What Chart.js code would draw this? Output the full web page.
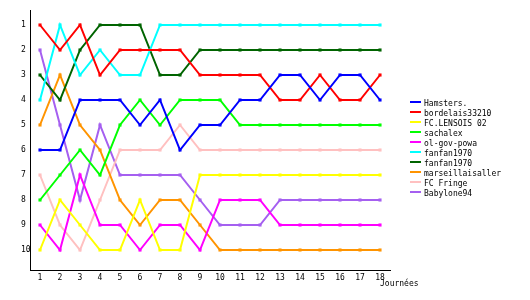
<!DOCTYPE html>
<html lang="fr">
<head>
  <meta charset="UTF-8" />
  <title>Classement par journée</title>
  <script src="https://cdn.jsdelivr.net/npm/chart.js"></script>
  <style>
    * { margin: 0; padding: 0; box-sizing: border-box; }
    body { background: #fff; width: 530px; height: 300px; overflow: hidden; }
    canvas { display: block; }
  </style>
</head>
<body>
  <canvas id="rankChart" width="530" height="300"></canvas>

  <script>
    // journées (x axis) and rank ticks (y axis)
    const journees = ['1','2','3','4','5','6','7','8','9','10','11','12','13','14','15','16','17','18'];
    const rankTicks = [1, 2, 3, 4, 5, 6, 7, 8, 9, 10];

    // classement of each team per journée
    const hamsters    = [6, 6, 4, 4, 4, 5, 4, 6, 5, 5, 4, 4, 3, 3, 4, 3, 3, 4];
    const bordelais   = [1, 2, 1, 3, 2, 2, 2, 2, 3, 3, 3, 3, 4, 4, 3, 4, 4, 3];
    const lensois     = [10, 8, 9, 10, 10, 8, 10, 10, 7, 7, 7, 7, 7, 7, 7, 7, 7, 7];
    const sachalex    = [8, 7, 6, 7, 5, 4, 5, 4, 4, 4, 5, 5, 5, 5, 5, 5, 5, 5];
    const olGovPowa   = [9, 10, 7, 9, 9, 10, 9, 9, 10, 8, 8, 8, 9, 9, 9, 9, 9, 9];
    const fanfanA     = [4, 1, 3, 2, 3, 3, 1, 1, 1, 1, 1, 1, 1, 1, 1, 1, 1, 1];
    const fanfanB     = [3, 4, 2, 1, 1, 1, 3, 3, 2, 2, 2, 2, 2, 2, 2, 2, 2, 2];
    const marseillais = [5, 3, 5, 6, 8, 9, 8, 8, 9, 10, 10, 10, 10, 10, 10, 10, 10, 10];
    const fringe      = [7, 9, 10, 8, 6, 6, 6, 5, 6, 6, 6, 6, 6, 6, 6, 6, 6, 6];
    const babylone    = [2, 5, 8, 5, 7, 7, 7, 7, 8, 9, 9, 9, 8, 8, 8, 8, 8, 8];

    const teamNames = ['Hamsters.', 'bordelais33210', 'FC.LENSOIS 02', 'sachalex', 'ol-gov-powa',
                       'fanfan1970', 'fanfan1970', 'marseillaisaller', 'FC Fringe', 'Babylone94'];
    const teamRanks = [hamsters, bordelais, lensois, sachalex, olGovPowa, fanfanA, fanfanB, marseillais, fringe, babylone];
    const teamColors = ['#0000ff', '#ff0000', '#ffff00', '#00ff00', '#ff00ff',
                        '#00ffff', '#006400', '#ff9400', '#ffc0c0', '#a55ff0'];

    const FONT = '8px "DejaVu Sans Mono", monospace';

    // legend on the right + axis caption, drawn by hand
    const sideLegend = {
      id: 'sideLegend',
      afterDraw(chart) {
        const c = chart.ctx;
        c.save();
        c.font = FONT;
        c.textBaseline = 'middle';
        c.fillStyle = '#000';
        chart.data.datasets.forEach((ds, i) => {
          const y = 103 + i * 10;
          c.fillStyle = ds.borderColor;
          c.fillRect(410, y - 2, 11, 2);
          c.fillStyle = '#000';
          c.fillText(ds.label, 424, y + 1);
        });
        c.fillText('Journées', 380, 284);
        c.restore();
      }
    };

    new Chart(document.getElementById('rankChart'), {
      type: 'line',
      data: {
        labels: journees,
        datasets: teamNames.map((name, i) => ({
          label: name,
          data: teamRanks[i],
          borderColor: teamColors[i],
          backgroundColor: teamColors[i],
          borderWidth: 2,
          tension: 0,
          fill: false,
          pointStyle: 'rect',
          pointRadius: 2.2,
          pointBorderWidth: 0
        }))
      },
      options: {
        responsive: false,
        animation: false,
        layout: { padding: { left: 21, top: 10, right: 140, bottom: 0 } },
        plugins: {
          legend: { display: false },
          tooltip: { enabled: false }
        },
        scales: {
          x: {
            type: 'category',
            offset: true,
            grid: { display: false, drawTicks: false },
            border: { display: true, color: '#000', width: 1 },
            ticks: { color: '#000', font: { family: 'DejaVu Sans Mono', size: 8 }, padding: 3, maxRotation: 0, autoSkip: false },
            afterFit: s => { s.height = 30; }
          },
          y: {
            type: 'linear',
            reverse: true,
            min: 0.4,
            max: 10.8,
            grid: { display: false, drawTicks: false },
            border: { display: true, color: '#000', width: 1 },
            ticks: { color: '#000', font: { family: 'DejaVu Sans Mono', size: 8 }, padding: 2, crossAlign: 'far' },
            afterBuildTicks: s => { s.ticks = rankTicks.map(v => ({ value: v })); },
            afterFit: s => { s.width = 9; }
          }
        }
      },
      plugins: [sideLegend]
    });
  </script>
</body>
</html>
